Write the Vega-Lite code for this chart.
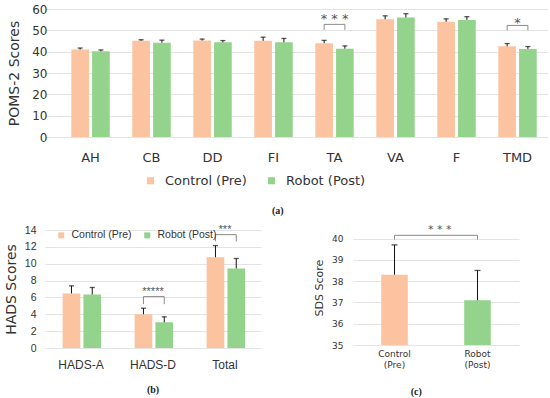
{
  "$schema": "https://vega.github.io/schema/vega-lite/v6.json",
  "padding": {"left": 4, "top": 3, "right": 0, "bottom": 0},
  "config": {
    "view": {"stroke": null},
    "font": "DejaVu Sans",
    "axis": {"ticks": false, "domain": false, "gridColor": "#e3e3e3", "labelColor": "#333333", "titleColor": "#333333", "titleFontWeight": "normal", "labelOverlap": false},
    "legend": {"labelColor": "#333333"}
  },
  "datasets": {
    "poms": [
      {"cat": "AH", "group": "Control (Pre)", "mean": 41.0, "upper": 41.7},
      {"cat": "AH", "group": "Robot (Post)", "mean": 40.2, "upper": 40.8},
      {"cat": "CB", "group": "Control (Pre)", "mean": 45.1, "upper": 45.6},
      {"cat": "CB", "group": "Robot (Post)", "mean": 44.2, "upper": 45.4},
      {"cat": "DD", "group": "Control (Pre)", "mean": 45.2, "upper": 45.9},
      {"cat": "DD", "group": "Robot (Post)", "mean": 44.4, "upper": 45.2},
      {"cat": "FI", "group": "Control (Pre)", "mean": 45.1, "upper": 46.8},
      {"cat": "FI", "group": "Robot (Post)", "mean": 44.4, "upper": 46.2},
      {"cat": "TA", "group": "Control (Pre)", "mean": 44.0, "upper": 45.3},
      {"cat": "TA", "group": "Robot (Post)", "mean": 41.4, "upper": 42.7},
      {"cat": "VA", "group": "Control (Pre)", "mean": 55.2, "upper": 56.8},
      {"cat": "VA", "group": "Robot (Post)", "mean": 56.0, "upper": 57.8},
      {"cat": "F", "group": "Control (Pre)", "mean": 54.0, "upper": 55.4},
      {"cat": "F", "group": "Robot (Post)", "mean": 54.9, "upper": 56.4},
      {"cat": "TMD", "group": "Control (Pre)", "mean": 42.5, "upper": 43.8},
      {"cat": "TMD", "group": "Robot (Post)", "mean": 41.3, "upper": 42.4}
    ],
    "pomsBr": [
      {"br": "TA", "cat": "TA", "group": "Control (Pre)", "ord": 1, "v": 50.2},
      {"br": "TA", "cat": "TA", "group": "Control (Pre)", "ord": 2, "v": 52.8},
      {"br": "TA", "cat": "TA", "group": "Robot (Post)", "ord": 3, "v": 52.8},
      {"br": "TA", "cat": "TA", "group": "Robot (Post)", "ord": 4, "v": 50.2},
      {"br": "TMD", "cat": "TMD", "group": "Control (Pre)", "ord": 1, "v": 50.0},
      {"br": "TMD", "cat": "TMD", "group": "Control (Pre)", "ord": 2, "v": 52.3},
      {"br": "TMD", "cat": "TMD", "group": "Robot (Post)", "ord": 3, "v": 52.3},
      {"br": "TMD", "cat": "TMD", "group": "Robot (Post)", "ord": 4, "v": 50.0}
    ],
    "pomsStar": [
      {"cat": "TA", "v": 55.4, "label": "* * *"},
      {"cat": "TMD", "v": 53.6, "label": "*"}
    ],
    "hads": [
      {"cat": "HADS-A", "group": "Control (Pre)", "mean": 6.47, "upper": 7.37},
      {"cat": "HADS-A", "group": "Robot (Post)", "mean": 6.35, "upper": 7.18},
      {"cat": "HADS-D", "group": "Control (Pre)", "mean": 4.0, "upper": 4.72},
      {"cat": "HADS-D", "group": "Robot (Post)", "mean": 3.05, "upper": 3.7},
      {"cat": "Total", "group": "Control (Pre)", "mean": 10.77, "upper": 12.15},
      {"cat": "Total", "group": "Robot (Post)", "mean": 9.44, "upper": 10.62}
    ],
    "hadsBr": [
      {"br": "D", "cat": "HADS-D", "group": "Control (Pre)", "ord": 1, "v": 5.2},
      {"br": "D", "cat": "HADS-D", "group": "Control (Pre)", "ord": 2, "v": 6.1},
      {"br": "D", "cat": "HADS-D", "group": "Robot (Post)", "ord": 3, "v": 6.1},
      {"br": "D", "cat": "HADS-D", "group": "Robot (Post)", "ord": 4, "v": 5.2},
      {"br": "T", "cat": "Total", "group": "Control (Pre)", "ord": 1, "v": 12.66},
      {"br": "T", "cat": "Total", "group": "Control (Pre)", "ord": 2, "v": 13.45},
      {"br": "T", "cat": "Total", "group": "Robot (Post)", "ord": 3, "v": 13.45},
      {"br": "T", "cat": "Total", "group": "Robot (Post)", "ord": 4, "v": 12.66}
    ],
    "hadsStar": [
      {"cat": "HADS-D", "v": 6.6, "label": "*****"},
      {"cat": "Total", "v": 14.0, "label": "***"}
    ],
    "sds": [
      {"group": "Control (Pre)", "mean": 38.3, "upper": 39.7},
      {"group": "Robot (Post)", "mean": 37.1, "upper": 38.5}
    ],
    "sdsBr": [
      {"group": "Control (Pre)", "ord": 1, "v": 39.95},
      {"group": "Control (Pre)", "ord": 2, "v": 40.15},
      {"group": "Robot (Post)", "ord": 3, "v": 40.15},
      {"group": "Robot (Post)", "ord": 4, "v": 39.95}
    ],
    "sdsStar": [
      {"group": "Control (Pre)", "v": 40.38, "label": "* * *"}
    ]
  },
  "spacing": 8,
  "resolve": {"scale": {"color": "independent"}, "legend": {"color": "independent"}},
  "vconcat": [
    {
      "width": 503,
      "height": 128,
      "title": {"text": "(a)", "orient": "bottom", "font": "Liberation Serif", "fontWeight": "bold", "fontSize": 10, "color": "#222222", "frame": "bounds", "anchor": "middle", "offset": 18},
      "layer": [
        {
          "data": {"name": "poms"},
          "mark": {"type": "bar"},
          "encoding": {
            "x": {"field": "cat", "type": "nominal", "scale": {"domain": ["AH", "CB", "DD", "FI", "TA", "VA", "F", "TMD"], "paddingInner": 0.37, "paddingOuter": 0.308, "align": 0.7}, "axis": {"title": null, "labelAngle": 0, "labelFontSize": 13, "labelPadding": 14}},
            "xOffset": {"field": "group", "type": "nominal", "scale": {"domain": ["Control (Pre)", "Robot (Post)"], "paddingInner": 0.15}},
            "y": {"field": "mean", "type": "quantitative", "scale": {"domain": [0, 60], "nice": false}, "axis": {"title": "POMS-2 Scores", "values": [0, 10, 20, 30, 40, 50, 60], "tickCount": 20, "format": "d", "grid": true, "offset": -15, "labelFontSize": 12, "labelPadding": 13, "titleFontSize": 14, "titlePadding": 10}},
            "color": {"field": "group", "type": "nominal", "scale": {"domain": ["Control (Pre)", "Robot (Post)"], "range": ["#FCC3A0", "#93D38B"]}, "legend": {"orient": "none", "legendX": 99, "legendY": 165, "direction": "horizontal", "title": null, "symbolType": "square", "symbolSize": 50, "symbolStrokeWidth": 0, "labelFontSize": 13, "labelOffset": 8, "columnPadding": 18}}
          }
        },
        {
          "data": {"name": "poms"},
          "mark": {"type": "rule", "color": "#111111", "strokeWidth": 1},
          "encoding": {
            "x": {"field": "cat", "type": "nominal"},
            "xOffset": {"field": "group", "type": "nominal"},
            "y": {"field": "mean", "type": "quantitative"},
            "y2": {"field": "upper"}
          }
        },
        {
          "data": {"name": "poms"},
          "mark": {"type": "tick", "color": "#111111", "thickness": 1.3, "size": 5},
          "encoding": {
            "x": {"field": "cat", "type": "nominal"},
            "xOffset": {"field": "group", "type": "nominal"},
            "y": {"field": "upper", "type": "quantitative"}
          }
        },
        {
          "data": {"name": "pomsBr"},
          "mark": {"type": "line", "color": "#8a8a8a", "strokeWidth": 1},
          "encoding": {
            "x": {"field": "cat", "type": "nominal"},
            "xOffset": {"field": "group", "type": "nominal"},
            "y": {"field": "v", "type": "quantitative"},
            "detail": {"field": "br"},
            "order": {"field": "ord"}
          }
        },
        {
          "data": {"name": "pomsStar"},
          "mark": {"type": "text", "fontSize": 13, "color": "#555555", "baseline": "middle"},
          "encoding": {
            "x": {"field": "cat", "type": "nominal"},
            "y": {"field": "v", "type": "quantitative"},
            "text": {"field": "label"}
          }
        }
      ]
    },
    {
      "spacing": 52,
      "resolve": {"scale": {"color": "independent"}, "legend": {"color": "independent"}},
      "hconcat": [
        {
          "width": 216,
          "height": 118,
          "title": {"text": "(b)", "orient": "bottom", "font": "Liberation Serif", "fontWeight": "bold", "fontSize": 10, "color": "#222222", "frame": "group", "anchor": "middle", "offset": 15},
          "layer": [
            {
              "data": {"name": "hads"},
              "mark": {"type": "bar"},
              "encoding": {
                "x": {"field": "cat", "type": "nominal", "scale": {"domain": ["HADS-A", "HADS-D", "Total"], "paddingInner": 0.49, "paddingOuter": 0.245}, "axis": {"title": null, "labelAngle": 0, "labelFontSize": 12, "labelPadding": 11, "labelFont": "Liberation Sans"}},
                "xOffset": {"field": "group", "type": "nominal", "scale": {"domain": ["Control (Pre)", "Robot (Post)"], "paddingInner": 0.22}},
                "y": {"field": "mean", "type": "quantitative", "scale": {"domain": [0, 14], "nice": false}, "axis": {"title": "HADS Scores", "values": [0, 2, 4, 6, 8, 10, 12, 14], "tickCount": 20, "format": "d", "grid": true, "gridColor": "#e3e3e3", "labelFontSize": 10.5, "labelFont": "Liberation Sans", "labelPadding": 9, "titleFontSize": 14, "titlePadding": 6}},
                "color": {"field": "group", "type": "nominal", "scale": {"domain": ["Control (Pre)", "Robot (Post)"], "range": ["#FCC3A0", "#93D38B"]}, "legend": {"orient": "none", "legendX": 11, "legendY": 0, "direction": "horizontal", "title": null, "symbolType": "square", "symbolSize": 36, "symbolStrokeWidth": 0, "labelFontSize": 10.5, "labelFont": "Liberation Sans", "labelOffset": 5, "columnPadding": 10}}
              }
            },
            {
              "data": {"name": "hads"},
              "mark": {"type": "rule", "color": "#111111", "strokeWidth": 1},
              "encoding": {
                "x": {"field": "cat", "type": "nominal"},
                "xOffset": {"field": "group", "type": "nominal"},
                "y": {"field": "mean", "type": "quantitative"},
                "y2": {"field": "upper"}
              }
            },
            {
              "data": {"name": "hads"},
              "mark": {"type": "tick", "color": "#111111", "thickness": 1.3, "size": 5},
              "encoding": {
                "x": {"field": "cat", "type": "nominal"},
                "xOffset": {"field": "group", "type": "nominal"},
                "y": {"field": "upper", "type": "quantitative"}
              }
            },
            {
              "data": {"name": "hadsBr"},
              "mark": {"type": "line", "color": "#8a8a8a", "strokeWidth": 1},
              "encoding": {
                "x": {"field": "cat", "type": "nominal"},
                "xOffset": {"field": "group", "type": "nominal"},
                "y": {"field": "v", "type": "quantitative"},
                "detail": {"field": "br"},
                "order": {"field": "ord"}
              }
            },
            {
              "data": {"name": "hadsStar"},
              "mark": {"type": "text", "fontSize": 11, "color": "#555555", "baseline": "middle", "font": "Liberation Sans"},
              "encoding": {
                "x": {"field": "cat", "type": "nominal"},
                "y": {"field": "v", "type": "quantitative"},
                "text": {"field": "label"}
              }
            }
          ]
        },
        {
          "width": 166,
          "height": 115,
          "title": {"text": "(c)", "orient": "bottom", "font": "Liberation Serif", "fontWeight": "bold", "fontSize": 10, "color": "#222222", "frame": "bounds", "anchor": "middle", "offset": 18},
          "layer": [
            {
              "data": {"name": "sds"},
              "mark": {"type": "bar"},
              "encoding": {
                "x": {"field": "group", "type": "nominal", "scale": {"domain": ["Control (Pre)", "Robot (Post)"], "paddingInner": 0.68, "paddingOuter": 0.34}, "axis": {"title": null, "labelAngle": 0, "labelFontSize": 9, "labelPadding": 4, "labelLineHeight": 11, "labelExpr": "split(datum.label, ' ')"}},
                "y": {"field": "mean", "type": "quantitative", "scale": {"domain": [35, 40.4], "nice": false, "zero": false}, "axis": {"title": "SDS Score", "values": [35, 36, 37, 38, 39, 40], "tickCount": 20, "format": "d", "grid": true, "gridColor": "#e3e3e3", "labelFontSize": 9, "labelPadding": 10, "titleFontSize": 11, "titlePadding": 7}},
                "y2": {"datum": 35},
                "color": {"field": "group", "type": "nominal", "scale": {"domain": ["Control (Pre)", "Robot (Post)"], "range": ["#FCC3A0", "#93D38B"]}, "legend": null}
              }
            },
            {
              "data": {"name": "sds"},
              "mark": {"type": "rule", "color": "#111111", "strokeWidth": 1},
              "encoding": {
                "x": {"field": "group", "type": "nominal"},
                "y": {"field": "mean", "type": "quantitative"},
                "y2": {"field": "upper"}
              }
            },
            {
              "data": {"name": "sds"},
              "mark": {"type": "tick", "color": "#111111", "thickness": 1.3, "size": 6},
              "encoding": {
                "x": {"field": "group", "type": "nominal"},
                "y": {"field": "upper", "type": "quantitative"}
              }
            },
            {
              "data": {"name": "sdsBr"},
              "mark": {"type": "line", "color": "#8a8a8a", "strokeWidth": 1},
              "encoding": {
                "x": {"field": "group", "type": "nominal"},
                "y": {"field": "v", "type": "quantitative"},
                "order": {"field": "ord"}
              }
            },
            {
              "data": {"name": "sdsStar"},
              "mark": {"type": "text", "fontSize": 11, "color": "#555555", "baseline": "middle"},
              "encoding": {
                "x": {"field": "group", "type": "nominal", "bandPosition": 2.2},
                "y": {"field": "v", "type": "quantitative"},
                "text": {"field": "label"}
              }
            }
          ]
        }
      ]
    }
  ]
}
